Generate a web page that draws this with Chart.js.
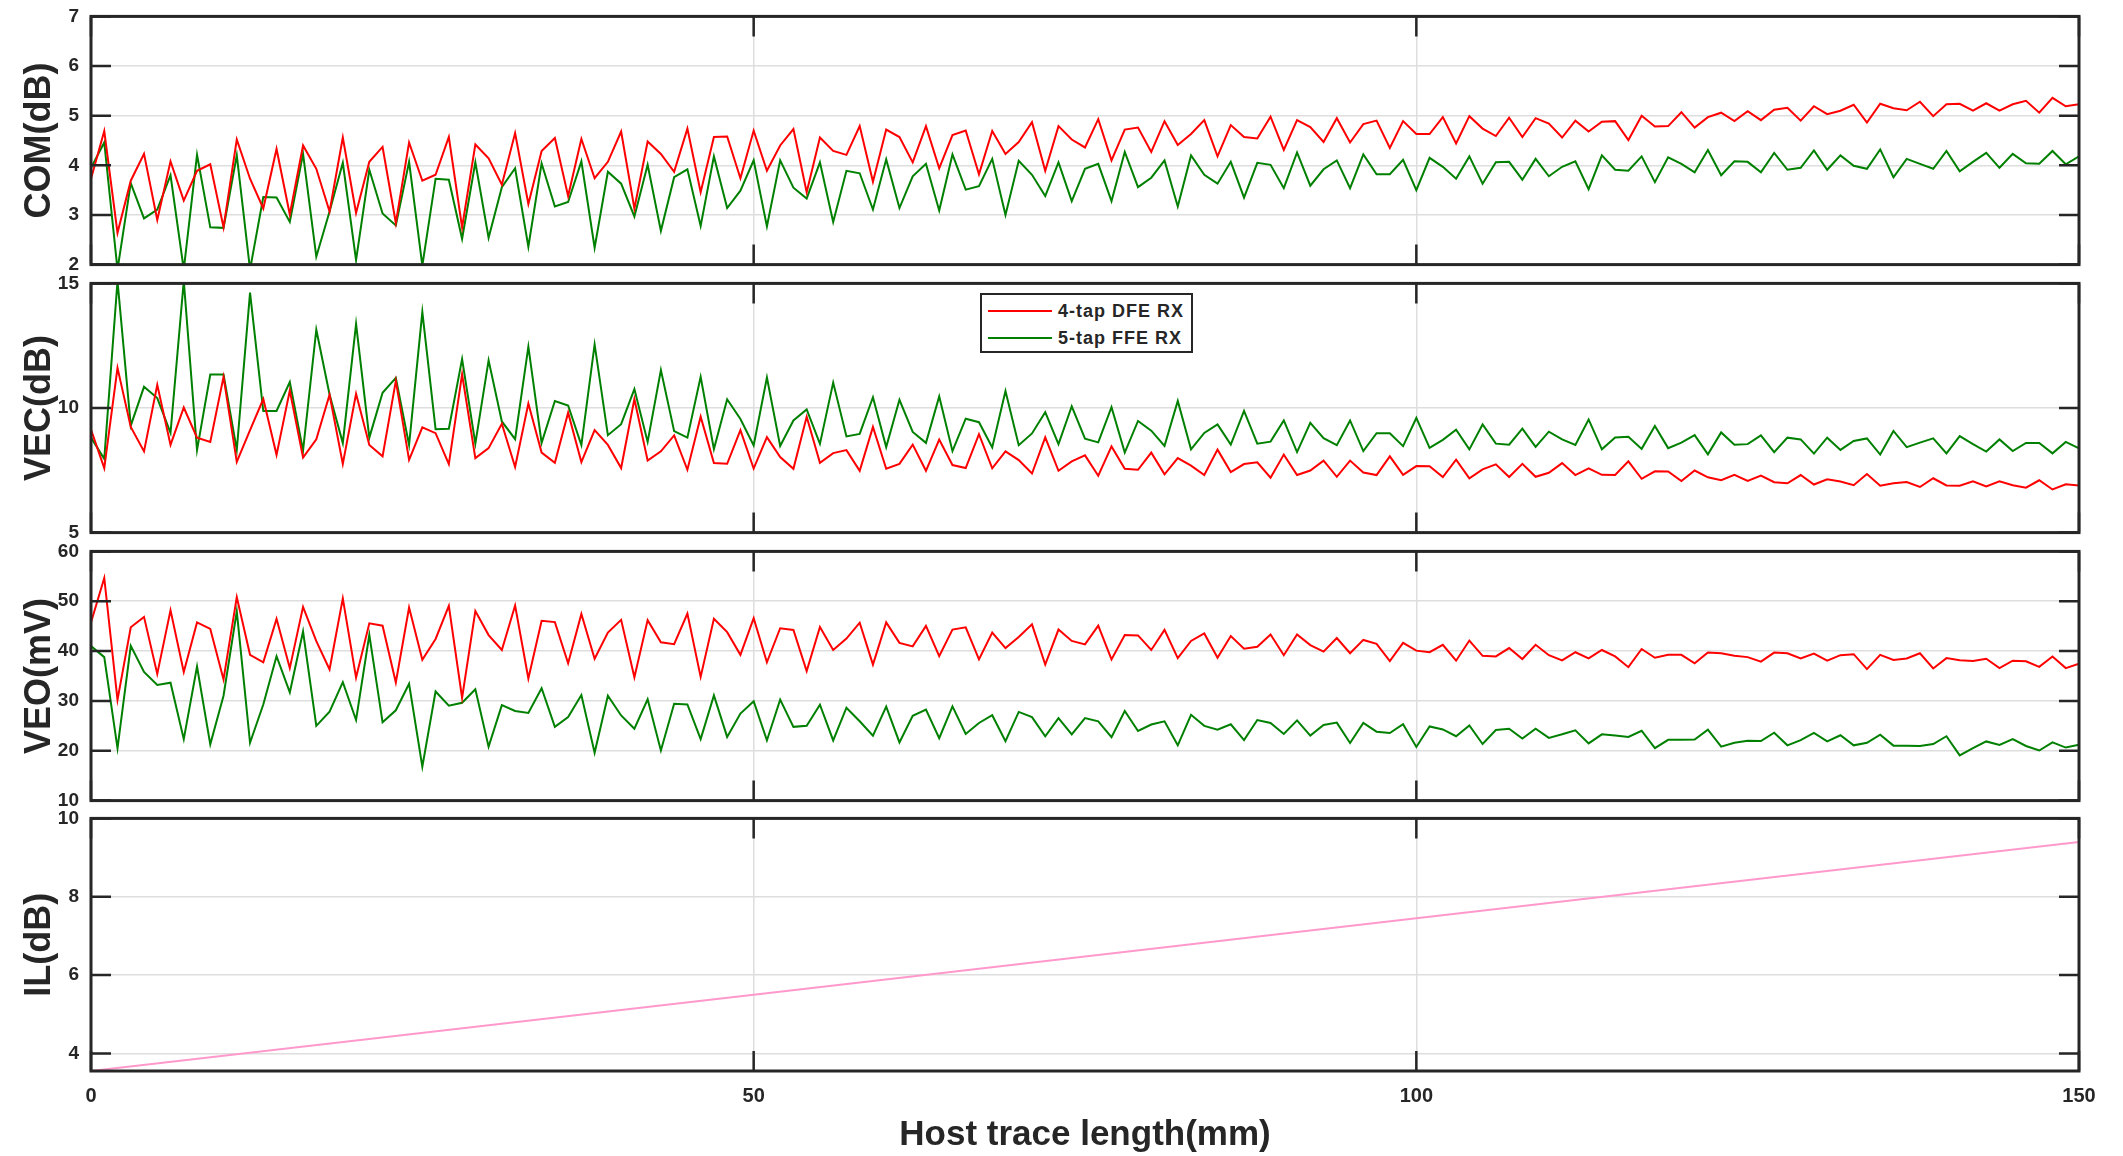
<!DOCTYPE html>
<html>
<head>
<meta charset="utf-8">
<script src="https://cdn.jsdelivr.net/npm/chart.js@4.4.1/dist/chart.umd.min.js"></script>
<style>
    html, body { margin: 0; padding: 0; background: #fff; }
    body { width: 2123px; height: 1156px; position: relative; overflow: hidden; }
    canvas { position: absolute; left: 0; }
    .legend {
        position: absolute; left: 980px; top: 293px; width: 209px; height: 56px;
        border: 2px solid #262626; background: #fff;
        font: bold 18px 'Liberation Sans', Arial, sans-serif; letter-spacing: 1px; color: #262626;
    }
    .legend .row { position: absolute; left: 6px; height: 20px; display: flex; align-items: center; }
    .legend .swatch { width: 64px; height: 0; border-top: 2px solid; margin-right: 6px; }
</style>
</head>
<body>
<canvas id="comChart"></canvas>
<canvas id="vecChart"></canvas>
<canvas id="veoChart"></canvas>
<canvas id="ilChart"></canvas>
<div class="legend">
    <div class="row" style="top: 6px"><span class="swatch" style="border-color: #ff0000"></span>4-tap DFE RX</div>
    <div class="row" style="top: 33px"><span class="swatch" style="border-color: #008000"></span>5-tap FFE RX</div>
</div>
<script>
// host trace length, 1 mm steps from 0 to 150
const traceLengthMm = Array.from({ length: 151 }, (_, i) => i);
const xTicks = [0, 50, 100, 150];

const comDfe = [
    3.73, 4.69, 2.64, 3.69, 4.23, 2.90, 4.08, 3.29, 3.89, 4.02,
    2.75, 4.52, 3.73, 3.13, 4.33, 3.01, 4.40, 3.93, 3.07, 4.56,
    3.04, 4.07, 4.37, 2.84, 4.46, 3.69, 3.81, 4.57, 2.75, 4.42,
    4.14, 3.61, 4.65, 3.22, 4.29, 4.55, 3.38, 4.53, 3.74, 4.07,
    4.68, 3.13, 4.48, 4.23, 3.87, 4.74, 3.46, 4.57, 4.58, 3.74,
    4.70, 3.89, 4.40, 4.73, 3.46, 4.56, 4.29, 4.21, 4.79, 3.67,
    4.72, 4.57, 4.06, 4.79, 3.94, 4.61, 4.70, 3.82, 4.69, 4.23,
    4.47, 4.87, 3.89, 4.79, 4.52, 4.36, 4.93, 4.10, 4.72, 4.76,
    4.27, 4.89, 4.41, 4.63, 4.91, 4.18, 4.81, 4.57, 4.54, 4.98,
    4.31, 4.91, 4.77, 4.47, 4.95, 4.46, 4.83, 4.90, 4.35, 4.89,
    4.63, 4.63, 4.97, 4.44, 4.99, 4.74, 4.59, 4.96, 4.57, 4.95,
    4.84, 4.56, 4.90, 4.68, 4.88, 4.89, 4.51, 5.00, 4.78, 4.79,
    5.07, 4.76, 4.97, 5.06, 4.89, 5.09, 4.91, 5.12, 5.16, 4.90,
    5.19, 5.03, 5.10, 5.22, 4.86, 5.24, 5.15, 5.11, 5.28, 4.99,
    5.23, 5.24, 5.10, 5.25, 5.10, 5.23, 5.30, 5.06, 5.36, 5.19, 5.23,
];
const comFfe = [
    3.95, 4.46, 1.90, 3.64, 2.93, 3.11, 3.80, 1.90, 4.21, 2.75,
    2.74, 4.20, 1.90, 3.36, 3.35, 2.86, 4.23, 2.16, 3.07, 4.05,
    2.09, 3.91, 3.03, 2.79, 4.07, 1.98, 3.73, 3.71, 2.52, 4.06,
    2.54, 3.56, 3.94, 2.36, 4.04, 3.17, 3.26, 4.08, 2.34, 3.87,
    3.63, 2.97, 4.01, 2.68, 3.76, 3.92, 2.78, 4.18, 3.14, 3.49,
    4.10, 2.77, 4.10, 3.55, 3.33, 4.06, 2.86, 3.89, 3.84, 3.11,
    4.12, 3.14, 3.78, 4.03, 3.09, 4.22, 3.51, 3.58, 4.13, 3.00,
    4.09, 3.81, 3.38, 4.06, 3.28, 3.93, 4.03, 3.28, 4.27, 3.56,
    3.75, 4.10, 3.17, 4.20, 3.81, 3.63, 4.07, 3.35, 4.05, 4.01,
    3.54, 4.26, 3.59, 3.92, 4.10, 3.54, 4.22, 3.82, 3.82, 4.11,
    3.50, 4.15, 3.97, 3.73, 4.18, 3.63, 4.06, 4.07, 3.71, 4.13,
    3.78, 3.97, 4.08, 3.52, 4.20, 3.91, 3.89, 4.18, 3.66, 4.16,
    4.03, 3.86, 4.31, 3.80, 4.08, 4.07, 3.86, 4.25, 3.91, 3.95,
    4.30, 3.91, 4.20, 3.99, 3.93, 4.32, 3.76, 4.13, 4.03, 3.93,
    4.29, 3.88, 4.07, 4.25, 3.95, 4.23, 4.04, 4.03, 4.29, 4.02, 4.18,
];

const vecDfe = [
    9.13, 7.59, 11.61, 9.24, 8.26, 10.93, 8.52, 10.02, 8.81, 8.64,
    11.25, 7.84, 9.11, 10.36, 8.12, 10.70, 8.01, 8.74, 10.53, 7.76,
    10.57, 8.52, 8.06, 11.09, 7.92, 9.22, 8.99, 7.75, 11.35, 7.99,
    8.39, 9.37, 7.63, 10.18, 8.21, 7.80, 9.81, 7.83, 9.11, 8.52,
    7.59, 10.36, 7.89, 8.26, 8.90, 7.52, 9.65, 7.79, 7.76, 9.11,
    7.57, 8.83, 8.03, 7.56, 9.65, 7.80, 8.19, 8.31, 7.48, 9.24,
    7.56, 7.76, 8.53, 7.48, 8.73, 7.71, 7.59, 8.95, 7.58, 8.26,
    7.91, 7.37, 8.82, 7.48, 7.86, 8.10, 7.28, 8.46, 7.56, 7.52,
    8.21, 7.34, 7.99, 7.69, 7.31, 8.33, 7.43, 7.75, 7.82, 7.20,
    8.13, 7.31, 7.49, 7.89, 7.24, 7.89, 7.41, 7.31, 8.06, 7.32,
    7.67, 7.66, 7.23, 7.93, 7.18, 7.54, 7.74, 7.23, 7.76, 7.24,
    7.40, 7.79, 7.31, 7.58, 7.32, 7.31, 7.86, 7.16, 7.46, 7.45,
    7.07, 7.49, 7.22, 7.10, 7.32, 7.07, 7.29, 7.02, 6.98, 7.31,
    6.93, 7.14, 7.05, 6.90, 7.35, 6.88, 6.98, 7.03, 6.83, 7.18,
    6.89, 6.88, 7.06, 6.85, 7.06, 6.90, 6.80, 7.10, 6.73, 6.94, 6.89,
];
const vecFfe = [
    8.81, 7.96, 15.10, 9.29, 10.85, 10.40, 9.00, 15.10, 8.31, 11.34,
    11.34, 8.32, 14.63, 9.88, 9.88, 11.04, 8.29, 13.14, 10.54, 8.59,
    13.38, 8.81, 10.61, 11.21, 8.52, 13.85, 9.15, 9.17, 11.96, 8.57,
    11.91, 9.46, 8.75, 12.46, 8.60, 10.28, 10.10, 8.51, 12.55, 8.91,
    9.35, 10.76, 8.64, 11.52, 9.07, 8.81, 11.25, 8.35, 10.35, 9.56,
    8.50, 11.22, 8.48, 9.50, 9.94, 8.56, 11.02, 8.86, 8.96, 10.43,
    8.43, 10.33, 9.04, 8.60, 10.46, 8.27, 9.57, 9.43, 8.42, 10.68,
    8.51, 8.98, 9.83, 8.55, 10.07, 8.77, 8.62, 10.03, 8.21, 9.48,
    9.09, 8.48, 10.28, 8.34, 9.00, 9.34, 8.53, 9.88, 8.57, 8.65,
    9.50, 8.23, 9.40, 8.79, 8.51, 9.50, 8.27, 8.99, 8.99, 8.47,
    9.60, 8.40, 8.72, 9.13, 8.34, 9.34, 8.57, 8.53, 9.17, 8.44,
    9.05, 8.74, 8.52, 9.54, 8.34, 8.82, 8.85, 8.36, 9.28, 8.39,
    8.61, 8.91, 8.14, 9.02, 8.53, 8.55, 8.90, 8.23, 8.81, 8.74,
    8.17, 8.81, 8.32, 8.68, 8.78, 8.13, 9.08, 8.43, 8.61, 8.78,
    8.18, 8.87, 8.55, 8.25, 8.74, 8.27, 8.60, 8.60, 8.18, 8.64, 8.38,
];

const veoDfe = [
    45.75, 54.67, 30.20, 44.78, 46.86, 35.41, 48.16, 35.80, 45.75, 44.45,
    34.30, 50.83, 39.25, 37.75, 46.47, 36.58, 48.87, 41.98, 36.32, 50.57,
    34.69, 45.56, 45.10, 33.71, 48.74, 38.27, 42.43, 49.07, 30.59, 48.03,
    43.21, 40.22, 49.13, 34.50, 46.08, 45.82, 37.55, 47.44, 38.46, 43.73,
    46.27, 34.76, 46.21, 41.78, 41.39, 47.51, 34.82, 46.47, 43.80, 39.25,
    46.60, 37.75, 44.58, 44.25, 35.99, 44.84, 40.22, 42.50, 45.69, 37.29,
    45.75, 41.65, 40.94, 45.04, 38.98, 44.32, 44.78, 38.33, 43.73, 40.61,
    42.82, 45.36, 37.29, 44.32, 42.04, 41.33, 45.10, 38.33, 43.21, 43.15,
    40.22, 44.25, 38.59, 42.04, 43.54, 38.66, 43.02, 40.48, 40.87, 43.34,
    39.18, 43.34, 41.20, 39.90, 42.63, 39.57, 42.24, 41.46, 38.01, 41.65,
    40.09, 39.77, 41.26, 38.07, 42.11, 39.05, 38.92, 40.61, 38.40, 41.26,
    39.18, 38.14, 39.77, 38.53, 40.22, 38.92, 36.77, 40.42, 38.66, 39.25,
    39.25, 37.55, 39.70, 39.57, 39.05, 38.79, 37.88, 39.70, 39.57, 38.53,
    39.51, 38.07, 39.18, 39.38, 36.38, 39.25, 38.20, 38.53, 39.57, 36.51,
    38.59, 38.14, 38.01, 38.46, 36.58, 38.07, 37.94, 36.84, 38.92, 36.58, 37.49,
];
const veoFfe = [
    41.00, 38.79, 20.51, 41.07, 35.80, 33.19, 33.65, 22.33, 36.90, 21.29,
    31.05, 47.96, 21.61, 29.29, 38.98, 31.70, 43.93, 25.00, 27.86, 33.78,
    26.17, 43.28, 25.71, 28.12, 33.45, 16.80, 31.89, 29.03, 29.62, 32.35,
    20.83, 29.16, 27.99, 27.60, 32.54, 24.80, 26.75, 31.18, 19.60, 31.05,
    27.08, 24.41, 30.33, 20.05, 29.42, 29.29, 22.33, 31.11, 22.78, 27.47,
    29.94, 22.07, 30.27, 24.80, 25.00, 29.23, 22.07, 28.64, 25.91, 23.04,
    28.84, 21.68, 27.01, 28.25, 22.52, 28.90, 23.37, 25.58, 27.14, 21.94,
    27.79, 26.75, 22.91, 26.56, 23.30, 26.56, 25.91, 22.72, 27.99, 23.96,
    25.26, 25.91, 21.09, 27.21, 25.00, 24.22, 25.32, 22.13, 26.17, 25.58,
    23.37, 26.10, 23.04, 25.19, 25.65, 21.55, 25.58, 23.83, 23.57, 25.32,
    20.77, 24.87, 24.28, 22.91, 25.06, 21.35, 24.15, 24.41, 22.46, 24.41,
    22.59, 23.30, 24.09, 21.48, 23.30, 23.04, 22.78, 24.02, 20.51, 22.20,
    22.20, 22.26, 24.22, 20.83, 21.61, 22.00, 21.94, 23.63, 21.09, 22.13,
    23.57, 21.87, 23.11, 21.09, 21.61, 23.24, 21.03, 21.03, 20.96, 21.35,
    22.91, 19.08, 20.51, 21.87, 21.16, 22.33, 20.96, 20.05, 21.68, 20.64, 21.22,
];

// insertion loss is a straight line; read at the labelled x positions
const ilLengthMm = [0, 50, 100, 150];
const ilDb = [3.55, 5.50, 7.45, 9.40];

const comTicks = [2, 3, 4, 5, 6, 7];
const vecTicks = [5, 10, 15];
const veoTicks = [10, 20, 30, 40, 50, 60];
const ilTicks = [4, 6, 8, 10];

(() => {
    'use strict';

    const INK = '#262626';
    const GRID = '#dedede';
    const FONT = "'Liberation Sans', Arial, sans-serif";
    const PAGE_W = 2123;
    const PLOT_LEFT = 91;
    const PLOT_RIGHT = 2079;
    const PAD = 20;
    const TICK_LEN = 20;

    const byId = (id) => document.getElementById(id);
    const points = (xs, ys) => ys.map((y, i) => ({ x: xs[i], y }));
    const series = (label, values, color, xs = traceLengthMm) => ({
        label,
        data: points(xs, values),
        borderColor: color,
        backgroundColor: color,
        borderWidth: 2,
        pointRadius: 0,
        tension: 0,
    });
    const fixedTicks = (values) => (axis) => {
        axis.ticks = values.map((value) => ({ value }));
    };

    // box around the plot area plus MATLAB style inward ticks on all four sides
    const framePlugin = {
        id: 'frame',
        afterDraw(chart) {
            const { ctx, chartArea: a, scales: { x, y } } = chart;
            ctx.save();
            ctx.strokeStyle = INK;
            ctx.lineWidth = 2.5;
            ctx.beginPath();
            y.ticks.forEach((tick) => {
                const py = y.getPixelForValue(tick.value);
                ctx.moveTo(a.left, py); ctx.lineTo(a.left + TICK_LEN, py);
                ctx.moveTo(a.right, py); ctx.lineTo(a.right - TICK_LEN, py);
            });
            x.ticks.forEach((tick) => {
                const px = x.getPixelForValue(tick.value);
                ctx.moveTo(px, a.top); ctx.lineTo(px, a.top + TICK_LEN);
                ctx.moveTo(px, a.bottom); ctx.lineTo(px, a.bottom - TICK_LEN);
            });
            ctx.stroke();
            ctx.lineWidth = 3;
            ctx.strokeRect(a.left, a.top, a.right - a.left, a.bottom - a.top);
            ctx.restore();
        },
    };

    const makePanel = ({ id, top, bottom, title, min, max, ticks, datasets, xLabels = false }) => {
        const canvas = byId(id);
        const canvasTop = top - PAD;
        const xAxisHeight = xLabels ? 85 : 0;
        const canvasHeight = xLabels ? 1156 - canvasTop : bottom - top + 2 * PAD;
        canvas.width = PAGE_W;
        canvas.height = canvasHeight;
        canvas.style.top = `${canvasTop}px`;
        canvas.style.width = `${PAGE_W}px`;
        canvas.style.height = `${canvasHeight}px`;

        return new Chart(canvas.getContext('2d'), {
            type: 'line',
            data: { datasets },
            plugins: [framePlugin],
            options: {
                responsive: false,
                animation: false,
                devicePixelRatio: 1,
                events: [],
                layout: {
                    padding: { top: PAD, bottom: xLabels ? 0 : PAD, left: 0, right: PAGE_W - PLOT_RIGHT },
                },
                plugins: { legend: { display: false }, tooltip: { enabled: false } },
                scales: {
                    x: {
                        type: 'linear',
                        min: 0,
                        max: 150,
                        afterBuildTicks: fixedTicks(xTicks),
                        afterFit: (scale) => { scale.height = xAxisHeight; },
                        grid: { color: GRID, lineWidth: 1.5, drawTicks: false },
                        border: { display: false },
                        ticks: {
                            display: xLabels,
                            color: INK,
                            padding: 13,
                            maxRotation: 0,
                            font: { family: FONT, size: 20, weight: 'bold' },
                            callback: (value) => String(value),
                        },
                        title: {
                            display: xLabels,
                            text: 'Host trace length(mm)',
                            color: INK,
                            padding: { top: 0, bottom: 0 },
                            font: { family: FONT, size: 35, weight: 'bold' },
                        },
                    },
                    y: {
                        type: 'linear',
                        min,
                        max,
                        afterBuildTicks: fixedTicks(ticks),
                        afterFit: (scale) => { scale.width = PLOT_LEFT; },
                        grid: { color: GRID, lineWidth: 1.5, drawTicks: false },
                        border: { display: false },
                        ticks: {
                            color: INK,
                            padding: 12,
                            font: { family: FONT, size: 19, weight: 'bold' },
                            callback: (value) => String(value),
                        },
                        title: {
                            display: true,
                            text: title,
                            color: INK,
                            padding: { top: 18, bottom: 0 },
                            font: { family: FONT, size: 36, weight: 'bold' },
                        },
                    },
                },
            },
        });
    };

    makePanel({
        id: 'comChart', top: 13, bottom: 268, title: 'COM(dB)', min: 2, max: 7, ticks: comTicks,
        datasets: [series('4-tap DFE RX', comDfe, '#ff0000'), series('5-tap FFE RX', comFfe, '#008000')],
    });
    makePanel({
        id: 'vecChart', top: 280, bottom: 536, title: 'VEC(dB)', min: 5, max: 15, ticks: vecTicks,
        datasets: [series('4-tap DFE RX', vecDfe, '#ff0000'), series('5-tap FFE RX', vecFfe, '#008000')],
    });
    makePanel({
        id: 'veoChart', top: 548, bottom: 804, title: 'VEO(mV)', min: 10, max: 60, ticks: veoTicks,
        datasets: [series('4-tap DFE RX', veoDfe, '#ff0000'), series('5-tap FFE RX', veoFfe, '#008000')],
    });
    makePanel({
        id: 'ilChart', top: 815, bottom: 1071, title: 'IL(dB)', min: 3.55, max: 10, ticks: ilTicks,
        datasets: [series('IL', ilDb, '#ff99cc', ilLengthMm)],
        xLabels: true,
    });
})();
</script>
</body>
</html>
